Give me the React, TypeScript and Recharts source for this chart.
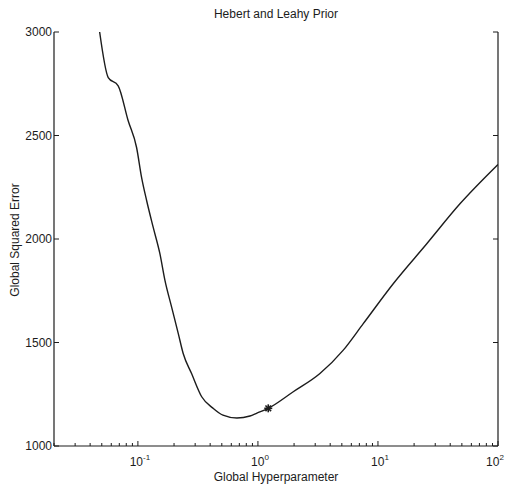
import {
  ComposedChart,
  Line,
  Scatter,
  XAxis,
  YAxis,
} from "recharts";

// error curve (hyperparameter on a log axis)
const hyperparams = [
  0.048, 0.0566, 0.0685, 0.083, 0.0975, 0.1073, 0.1182, 0.134, 0.1525,
  0.168, 0.191, 0.217, 0.2384, 0.28, 0.34, 0.422, 0.511, 0.668, 0.858,
  0.981, 1.219, 1.969, 3.285, 5.14, 7.54, 13.4, 25.5, 48.2, 100,
];
const squaredErrors = [
  3000, 2780, 2740, 2571, 2442, 2298, 2186, 2057, 1929, 1800, 1671, 1543,
  1447, 1350, 1238, 1183, 1149, 1135, 1145, 1159, 1182, 1262, 1350, 1463,
  1591, 1784, 1977, 2170, 2360,
];

// selected hyperparameter (asterisk)
const chosenX = [1.219];
const chosenY = [1182];

const xTicks = [
  0.02, 0.03, 0.04, 0.05, 0.06, 0.07, 0.08, 0.09,
  0.1, 0.2, 0.3, 0.4, 0.5, 0.6, 0.7, 0.8, 0.9,
  1, 2, 3, 4, 5, 6, 7, 8, 9,
  10, 20, 30, 40, 50, 60, 70, 80, 90, 100,
];
const decadeTicks = [0.1, 1, 10, 100];
const decadeLabels = ["-1", "0", "1", "2"];
const yTicks = [1000, 1500, 2000, 2500, 3000];

const curve = hyperparams.map((x, i) => ({ x, err: squaredErrors[i] }));
const chosen = chosenX.map((x, i) => ({ x, err: chosenY[i] }));

const INK = "#1c1c1c";
const FONT = '"Liberation Sans", Arial, Helvetica, sans-serif';

function BottomTick(props: any) {
  const { x, y, payload } = props;
  const idx = decadeTicks.indexOf(payload.value);
  const major = idx >= 0;
  // last label sits on the right edge, nudge it in so it is not cut
  const lx = idx === decadeTicks.length - 1 ? x - 3 : x + 2;
  return (
    <g>
      <line x1={x} y1={y} x2={x} y2={y - (major ? 5 : 3)} stroke={INK} strokeWidth={1} />
      {major && (
        <text x={lx} y={y + 20} textAnchor="middle" fontSize={12} fill={INK} fontFamily={FONT}>
          <tspan>10</tspan>
          <tspan dy={-6} fontSize={8}>{decadeLabels[idx]}</tspan>
        </text>
      )}
    </g>
  );
}

function TopTick(props: any) {
  const { x, y, payload } = props;
  const major = decadeTicks.indexOf(payload.value) >= 0;
  return <line x1={x} y1={y} x2={x} y2={y + (major ? 5 : 3)} stroke={INK} strokeWidth={1} />;
}

function LeftTick(props: any) {
  const { x, y, payload } = props;
  return (
    <g>
      <line x1={x} y1={y} x2={x + 5} y2={y} stroke={INK} strokeWidth={1} />
      <text x={x - 2} y={y + 4} textAnchor="end" fontSize={12} fill={INK} fontFamily={FONT}>
        {payload.value}
      </text>
    </g>
  );
}

function RightTick(props: any) {
  const { x, y } = props;
  return <line x1={x} y1={y} x2={x - 5} y2={y} stroke={INK} strokeWidth={1} />;
}

function Asterisk(props: any) {
  const { cx, cy } = props;
  const r = 4;
  const d = 2.8;
  return (
    <g stroke={INK} strokeWidth={1.6}>
      <line x1={cx - r} y1={cy} x2={cx + r} y2={cy} />
      <line x1={cx} y1={cy - r} x2={cx} y2={cy + r} />
      <line x1={cx - d} y1={cy - d} x2={cx + d} y2={cy + d} />
      <line x1={cx - d} y1={cy + d} x2={cx + d} y2={cy - d} />
    </g>
  );
}

export default function App() {
  return (
    <div
      style={{
        position: "absolute",
        left: 0,
        top: 0,
        width: 506,
        height: 490,
        background: "#fff",
        fontFamily: FONT,
        color: INK,
      }}
    >
      <div
        style={{
          position: "absolute",
          left: 176,
          top: 7,
          width: 200,
          textAlign: "center",
          fontSize: 12,
          lineHeight: "14px",
        }}
      >
        Hebert and Leahy Prior
      </div>
      <div
        style={{
          position: "absolute",
          left: 176,
          top: 470,
          width: 200,
          textAlign: "center",
          fontSize: 12,
          lineHeight: "14px",
        }}
      >
        Global Hyperparameter
      </div>
      <div
        style={{
          position: "absolute",
          left: 15,
          top: 240,
          transform: "translate(-50%, -50%) rotate(-90deg)",
          whiteSpace: "nowrap",
          fontSize: 12,
          lineHeight: "14px",
        }}
      >
        Global Squared Error
      </div>
      <ComposedChart
        width={506}
        height={490}
        margin={{ top: 32, right: 0, bottom: 0, left: 0 }}
        style={{ position: "absolute", left: 0, top: 0 }}
      >
        <XAxis
          xAxisId="bottom"
          dataKey="x"
          type="number"
          scale="log"
          domain={[0.02, 100]}
          allowDataOverflow
          ticks={xTicks}
          interval={0}
          height={44}
          tickSize={0}
          tickMargin={0}
          tick={<BottomTick />}
          axisLine={{ stroke: INK, strokeWidth: 1.2 }}
          tickLine={false}
        />
        <XAxis
          xAxisId="top"
          orientation="top"
          dataKey="x"
          type="number"
          scale="log"
          domain={[0.02, 100]}
          allowDataOverflow
          ticks={xTicks}
          interval={0}
          height={0}
          tickSize={0}
          tickMargin={0}
          tick={<TopTick />}
          axisLine={{ stroke: INK, strokeWidth: 1.2 }}
          tickLine={false}
        />
        <YAxis
          yAxisId="left"
          type="number"
          domain={[1000, 3000]}
          allowDataOverflow
          ticks={yTicks}
          interval={0}
          width={54}
          tickSize={0}
          tickMargin={0}
          tick={<LeftTick />}
          axisLine={{ stroke: INK, strokeWidth: 1.2 }}
          tickLine={false}
        />
        <YAxis
          yAxisId="right"
          orientation="right"
          type="number"
          domain={[1000, 3000]}
          allowDataOverflow
          ticks={yTicks}
          interval={0}
          width={8}
          tickSize={0}
          tickMargin={0}
          tick={<RightTick />}
          axisLine={{ stroke: INK, strokeWidth: 1.2 }}
          tickLine={false}
        />
        <Line
          xAxisId="bottom"
          yAxisId="left"
          data={curve}
          dataKey="err"
          type="monotone"
          stroke={INK}
          strokeWidth={1.4}
          dot={false}
          isAnimationActive={false}
        />
        <Scatter
          xAxisId="bottom"
          yAxisId="left"
          data={chosen}
          dataKey="err"
          shape={<Asterisk />}
          isAnimationActive={false}
        />
      </ComposedChart>
    </div>
  );
}
